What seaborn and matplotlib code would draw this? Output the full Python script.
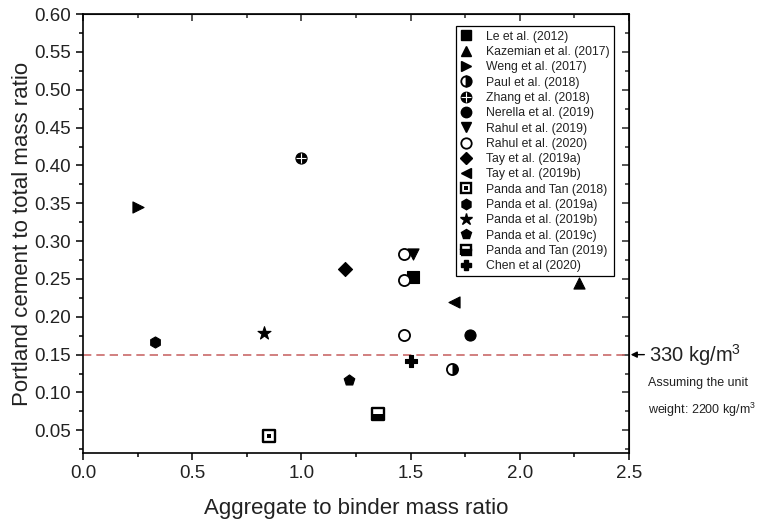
import matplotlib
matplotlib.use("Agg")
import matplotlib.pyplot as plt
from matplotlib.lines import Line2D
from matplotlib.markers import MarkerStyle
from matplotlib.ticker import MultipleLocator
import seaborn as sns

# data
studies = ["Le et al. (2012)", "Kazemian et al. (2017)", "Weng et al. (2017)",
           "Paul et al. (2018)", "Zhang et al. (2018)", "Nerella et al. (2019)",
           "Rahul et al. (2019)", "Rahul et al. (2020)", "Tay et al. (2019a)",
           "Tay et al. (2019b)", "Panda and Tan (2018)", "Panda et al. (2019a)",
           "Panda et al. (2019b)", "Panda et al. (2019c)", "Panda and Tan (2019)",
           "Chen et al (2020)"]
agg_binder = [[1.51], [2.27], [0.25], [1.69], [1.00], [1.77], [1.51],
              [1.47, 1.47, 1.47], [1.20], [1.70], [0.85], [0.33], [0.83],
              [1.22], [1.35], [1.50]]
cement_ratio = [[0.253], [0.245], [0.345], [0.131], [0.410], [0.176], [0.283],
                [0.283, 0.248, 0.176], [0.263], [0.219], [0.043], [0.167],
                [0.178], [0.116], [0.071], [0.142]]
limit_ratio = 0.15

sns.set_style("ticks")
plt.rcParams["font.family"] = ["Liberation Sans", "DejaVu Sans"]
plt.rcParams["mathtext.fontset"] = "custom"
plt.rcParams["mathtext.rm"] = "Liberation Sans"

fig = plt.figure(figsize=(7.66, 5.24), dpi=100)
ax = fig.add_axes([0.1084, 0.1355, 0.7128, 0.8375])

S = 64
LW = 0.8
k = "black"

# simple markers: (index, marker, facecolor)
simple = [(0, "s", k), (1, "^", k), (2, ">", k), (5, "o", k), (6, "v", k),
          (7, "o", "white"), (8, "D", k), (9, "<", k), (11, "h", k),
          (12, "*", k), (13, "p", k), (15, "P", k)]
for i, m, fc in simple:
    sz = S * 1.5 if m == "*" else (S * 0.8 if m == "D" else S)
    sns.scatterplot(x=agg_binder[i], y=cement_ratio[i], marker=m, s=sz,
                    color=k, facecolor=fc, edgecolor=k, linewidth=1.3 if fc == "white" else LW,
                    ax=ax, zorder=3)

# Paul et al. (2018): half filled circle
sns.scatterplot(x=agg_binder[3], y=cement_ratio[3], marker="o", s=S, color=k,
                facecolor="white", edgecolor=k, linewidth=1.3, ax=ax, zorder=3)
sns.scatterplot(x=agg_binder[3], y=cement_ratio[3], marker=MarkerStyle("o", fillstyle="right"),
                s=S, color=k, edgecolor=k, linewidth=0, ax=ax, zorder=4)
# Zhang et al. (2018): circle with cross
sns.scatterplot(x=agg_binder[4], y=cement_ratio[4], marker="o", s=S, color=k,
                edgecolor=k, linewidth=LW, ax=ax, zorder=3)
ax.scatter(agg_binder[4], cement_ratio[4], marker="+", s=S * 0.9, color="white",
           linewidth=0.8, zorder=4)
# Panda and Tan (2018): square with dot
sns.scatterplot(x=agg_binder[10], y=cement_ratio[10], marker="s", s=S, color=k,
                facecolor="white", edgecolor=k, linewidth=1.7, ax=ax, zorder=3)
sns.scatterplot(x=agg_binder[10], y=cement_ratio[10], marker="s", s=S * 0.12, color=k,
                edgecolor=k, linewidth=0, ax=ax, zorder=4)
# Panda and Tan (2019): bottom half filled square
sns.scatterplot(x=agg_binder[14], y=cement_ratio[14], marker="s", s=S, color=k,
                facecolor="white", edgecolor=k, linewidth=1.7, ax=ax, zorder=3)
sns.scatterplot(x=agg_binder[14], y=cement_ratio[14], marker=MarkerStyle("s", fillstyle="bottom"),
                s=S, color=k, edgecolor=k, linewidth=0, ax=ax, zorder=4)

# 330 kg/m3 line
ax.axhline(limit_ratio, color="#c96a6a", linestyle=(0, (5, 3)), linewidth=1.2, zorder=1)

ax.set_xlim(0, 2.5)
ax.set_ylim(0.02, 0.60)
ax.xaxis.set_major_locator(MultipleLocator(0.5))
ax.xaxis.set_minor_locator(MultipleLocator(0.25))
ax.yaxis.set_major_locator(MultipleLocator(0.05))
ax.yaxis.set_minor_locator(MultipleLocator(0.025))
ax.xaxis.set_major_formatter(lambda v, p: f"{v:.1f}")
ax.yaxis.set_major_formatter(lambda v, p: f"{v:.2f}")
ax.tick_params(which="both", direction="out", labelsize=13.5, width=1.1, color=k,
               labelcolor="#222222")
ax.tick_params(which="major", length=5)
ax.tick_params(which="minor", length=3)
for sp in ax.spines.values():
    sp.set_visible(True)
    sp.set_linewidth(1.2)
    sp.set_color(k)

# mirrored inward ticks on top/right
axr = ax.secondary_yaxis("right")
axr.yaxis.set_major_locator(MultipleLocator(0.05))
axr.yaxis.set_minor_locator(MultipleLocator(0.025))
axr.tick_params(which="both", direction="in", labelright=False, width=1.1)
axr.tick_params(which="major", length=5)
axr.tick_params(which="minor", length=3)
axt = ax.secondary_xaxis("top")
axt.xaxis.set_major_locator(MultipleLocator(0.5))
axt.xaxis.set_minor_locator(MultipleLocator(0.25))
axt.tick_params(which="both", direction="in", labeltop=False, width=1.1)
axt.tick_params(which="major", length=5)
axt.tick_params(which="minor", length=3)

ax.set_xlabel("Aggregate to binder mass ratio", fontsize=16, labelpad=12, color="#222222")
ax.set_ylabel("Portland cement to total mass ratio", fontsize=16, labelpad=1, color="#222222")


# legend handles
def mk(m, fc=k, ms=7.5, ec=k, **kw):
    return Line2D([], [], linestyle="none", marker=m, markersize=ms, markerfacecolor=fc,
                  markeredgecolor=ec, **kw)


handles = [
    mk("s"), mk("^"), mk(">"),
    mk("o", fillstyle="right", markerfacecoloralt="white", markeredgewidth=1.3),
    (mk("o"), mk("+", ms=7, ec="white", markeredgewidth=0.8)),
    mk("o"), mk("v"), mk("o", fc="white", markeredgewidth=1.3), mk("D", ms=6.6), mk("<"),
    (mk("s", fc="white", markeredgewidth=1.7), mk("s", ms=2.6, markeredgewidth=0)),
    mk("h"), mk("*", ms=9), mk("p"),
    mk("s", fillstyle="bottom", markerfacecoloralt="white", markeredgewidth=1.7),
    mk("P"),
]
leg = ax.legend(handles, studies, loc="upper right", bbox_to_anchor=(0.972, 0.972),
                fontsize=8.8, frameon=True, fancybox=False, edgecolor=k, framealpha=1,
                labelspacing=0.27, handlelength=1.0, handletextpad=1.1,
                borderpad=0.35, borderaxespad=0)
leg.get_frame().set_linewidth(0.9)
for t in leg.get_texts():
    t.set_color("#222222")

# annotation at right of the axes
tr = ax.get_yaxis_transform()
ax.annotate("", xy=(1.003, limit_ratio), xytext=(1.028, limit_ratio), xycoords=tr,
            textcoords=tr, arrowprops=dict(arrowstyle="-|>", color=k, lw=1.0,
                                           mutation_scale=9, shrinkA=0, shrinkB=0))
ax.text(1.037, limit_ratio, "330 kg/m$^3$", transform=tr, fontsize=14.5, va="center",
        ha="left", color="#222222")
fig.text(0.846, 1 - 383 / 524, "Assuming the unit", fontsize=9, va="center",
         ha="left", color="#222222")
fig.text(0.846, 1 - 410 / 524, "weight: 2200 kg/m$^3$", fontsize=9, va="center",
         ha="left", color="#222222")

fig.savefig("out.png", dpi=100)
